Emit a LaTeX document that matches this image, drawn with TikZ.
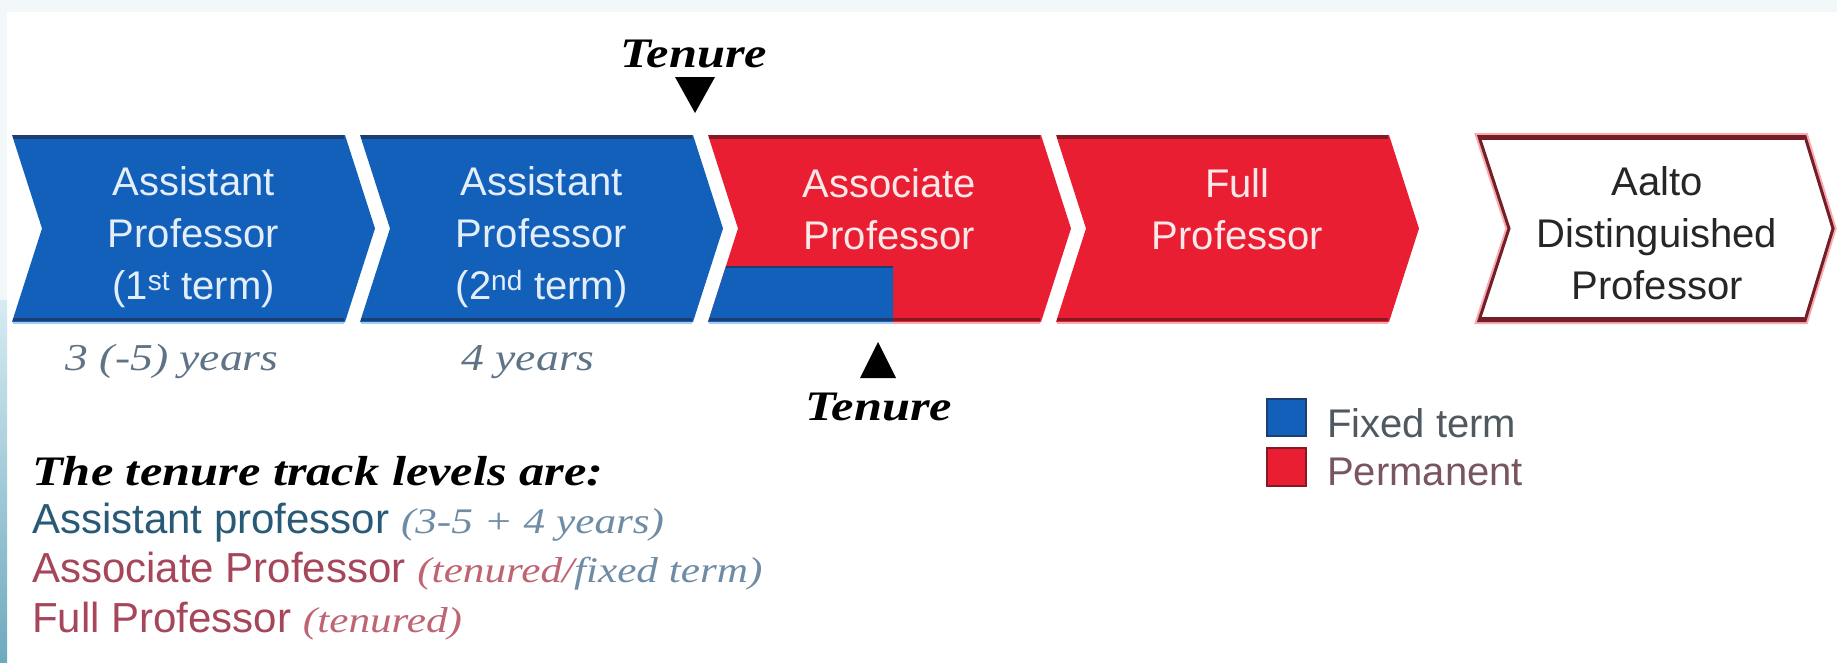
\documentclass[tikz,border=0pt]{standalone}
\usepackage{fontspec}
\setmainfont{Liberation Sans}
\newfontfamily\gser[FakeStretch=1.2]{Liberation Serif}
\definecolor{cblue}{RGB}{18,96,186}
\definecolor{cbluedk}{RGB}{28,62,112}
\definecolor{cbluelt}{RGB}{165,205,240}
\definecolor{cred}{RGB}{234,30,50}
\definecolor{creddk}{RGB}{135,25,35}
\definecolor{credlt}{RGB}{250,170,175}
\definecolor{cwhiteln}{RGB}{115,30,40}
\definecolor{asst}{RGB}{40,90,120}
\definecolor{asstlt}{RGB}{110,140,165}
\definecolor{assoc}{RGB}{165,70,90}
\definecolor{assoclt}{RGB}{190,100,115}
\definecolor{yrs}{RGB}{95,115,135}
\definecolor{legtxt}{RGB}{80,88,96}
\definecolor{legred}{RGB}{120,85,95}
\definecolor{topband}{RGB}{242,248,250}
\definecolor{stripa}{RGB}{215,235,242}
\definecolor{stripb}{RGB}{110,170,190}
\definecolor{bluetext}{RGB}{228,238,250}
\definecolor{redtext}{RGB}{252,232,232}
\begin{document}
\begin{tikzpicture}[x=1pt,y=-1pt,
  lab/.style={font=\fontsize{40}{52}\selectfont, align=center, inner sep=0pt, anchor=north},
  tenlab/.style={font=\gser\bfseries\itshape\fontsize{42}{42}\selectfont, inner sep=0pt, anchor=base},
  yrlab/.style={font=\gser\itshape\fontsize{38}{38}\selectfont, text=yrs, inner sep=0pt, anchor=base},
  listlab/.style={font=\fontsize{42}{42}\selectfont, inner sep=0pt, anchor=base west},
  leglab/.style={font=\fontsize{40}{40}\selectfont, inner sep=0pt, anchor=base west},
  marker/.style={fill=black}]
\useasboundingbox (0,0) rectangle (1837,662);
\fill[white] (0,0) rectangle (1837,662);
\fill[topband] (0,0) rectangle (1837,12);
\fill[topband] (0,0) rectangle (7,300);
\shade[top color=stripa, bottom color=stripb] (0,300) rectangle (7,662);

% chevrons
\foreach \L/\c/\d/\e in {12/cblue/cbluedk/cbluelt,360/cblue/cbluedk/cbluelt,708/cred/creddk/credlt,1056/cred/creddk/credlt}{
  \fill[\c] (\L,135) -- (\L+333,135) -- (\L+363,228.5) -- (\L+333,322) -- (\L,322) -- (\L+30,228.5) -- cycle;
  \draw[\d, line width=4pt] (\L+1,137) -- (\L+332,137);
  \draw[\d, line width=3pt] (\L+1,319) -- (\L+332,319);
  \draw[\e, line width=2pt] (\L+1,322.5) -- (\L+332,322.5);
}
% fixed-term part of associate professor
\fill[cblue] (726,266) -- (893,266) -- (893,322) -- (708,322) -- cycle;
\draw[cbluedk, line width=2pt] (726,267) -- (893,267);
\draw[cbluedk, line width=3pt] (709,319) -- (893,319);
\draw[cbluelt, line width=2pt] (709,322.5) -- (893,322.5);
% Aalto distinguished professor
\draw[credlt, line width=7pt, line join=miter]
  (1479,136.5) -- (1805,136.5) -- (1833,228.5) -- (1805,320.5) -- (1479,320.5) -- (1509,228.5) -- cycle;
\draw[cwhiteln, fill=white, line width=3pt, line join=miter]
  (1479,136.5) -- (1805,136.5) -- (1833,228.5) -- (1805,320.5) -- (1479,320.5) -- (1509,228.5) -- cycle;
\draw[cwhiteln, line width=4.5pt] (1480,137.5) -- (1804,137.5);
\draw[cwhiteln, line width=4.5pt] (1480,319.5) -- (1804,319.5);

% chevron labels
\node[lab, text=bluetext] (ap1) at (193.5,166) {Assistant\\Professor\\(1\textsuperscript{st} term)};
\node[lab, text=bluetext] (ap2) at (541.5,166) {Assistant\\Professor\\(2\textsuperscript{nd} term)};
\node[lab, text=redtext] (assoc) at (889.5,168) {Associate\\Professor};
\node[lab, text=redtext] (full) at (1237.5,168) {Full\\Professor};
\node[lab, text=black!85] (aalto) at (1657,166) {Aalto\\Distinguished\\Professor};

% tenure markers
\fill[marker] (675,77) -- (715,77) -- (695,113) -- cycle;
\node[tenlab] (tenTop) at (694,67) {Tenure};
\fill[marker] (860,378) -- (896,378) -- (878,342) -- cycle;
\node[tenlab] (tenBot) at (879,420) {Tenure};

% durations
\node[yrlab] (y1) at (172,370) {3 (-5) years};
\node[yrlab] (y2) at (528,370) {4 years};

% list
\node[listlab] (head) at (32,485) {\gser\bfseries\itshape The tenure track levels are:};
\node[listlab] (l1) at (32,533) {\color{asst}Assistant professor {\gser\itshape\fontsize{36}{36}\selectfont\color{asstlt}(3-5 + 4 years)}};
\node[listlab] (l2) at (32,582) {\color{assoc}Associate Professor {\gser\itshape\fontsize{36}{36}\selectfont\color{assoclt}(tenured/\color{asstlt}fixed term)}};
\node[listlab] (l3) at (32,632) {\color{assoc}Full Professor {\gser\itshape\fontsize{36}{36}\selectfont\color{assoclt}(tenured)}};

% legend
\draw[cbluedk, fill=cblue, line width=2pt] (1267,399) rectangle (1306,436);
\draw[creddk, fill=cred, line width=2pt] (1267,448) rectangle (1306,486);
\node[leglab, text=legtxt] (lf) at (1327,437) {Fixed term};
\node[leglab, text=legred] (lp) at (1327,485) {Permanent};
\end{tikzpicture}
\end{document}
